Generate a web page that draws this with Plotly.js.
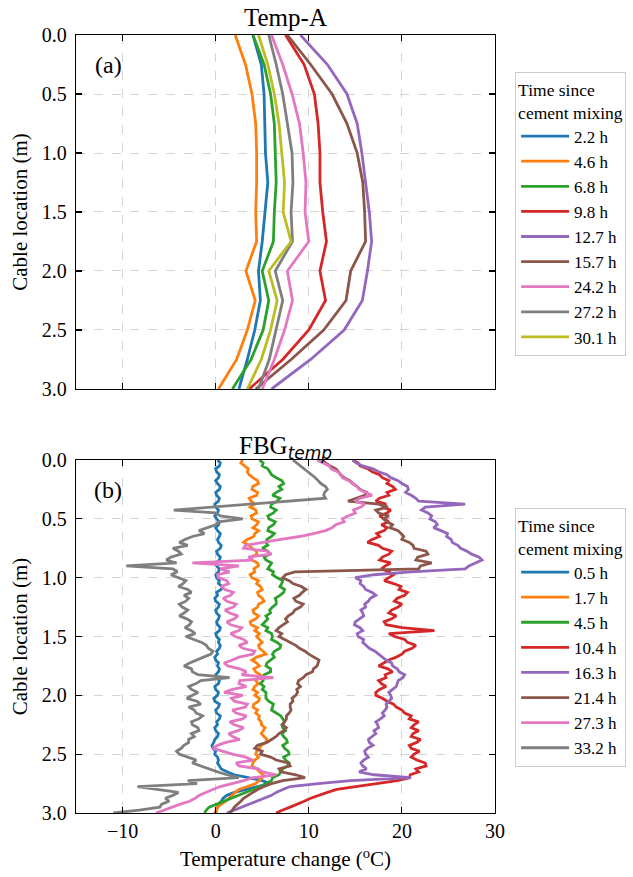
<!DOCTYPE html>
<html><head><meta charset="utf-8">
<script src="https://cdn.plot.ly/plotly-3.0.1.min.js"></script>
<style>html,body{margin:0;padding:0;background:#fff}</style>
</head><body><div id="chart" style="width:633px;height:877px"></div>
<script>
// ---------- (a) Temp-A ----------
const depthA = [0, 0.25, 0.5, 0.75, 1.0, 1.25, 1.5, 1.75, 2.0, 2.25, 2.5, 2.75, 3.0];
const labelsA = ['2.2 h','4.6 h','6.8 h','9.8 h','12.7 h','15.7 h','24.2 h','27.2 h','30.1 h'];
const tA_22  = [4.0, 4.9, 5.2, 5.3, 5.35, 5.6, 5.3, 5.0, 4.6, 4.8, 4.2, 3.4, 2.5];
const tA_46  = [2.1, 3.2, 3.9, 4.3, 4.4, 4.4, 4.3, 4.4, 3.25, 4.25, 3.4, 2.25, 0.3];
const tA_68  = [4.0, 5.2, 5.9, 6.3, 6.4, 6.5, 6.3, 6.2, 5.0, 5.7, 5.1, 3.8, 1.8];
const tA_98  = [7.5, 9.5, 10.6, 11.0, 11.2, 11.2, 11.5, 11.9, 11.2, 11.8, 10.0, 7.2, 3.6];
const tA_127 = [9.1, 12.0, 14.1, 15.2, 15.7, 16.1, 16.5, 16.75, 16.3, 15.75, 13.8, 10.2, 6.0];
const tA_157 = [7.7, 10.2, 12.5, 14.1, 15.2, 15.8, 16.0, 16.1, 14.5, 14.0, 11.6, 8.1, 4.3];
const tA_242 = [6.0, 7.2, 8.2, 9.0, 9.4, 9.7, 9.6, 10.0, 7.7, 8.25, 7.4, 6.3, 5.0];
const tA_272 = [5.7, 6.5, 7.2, 7.7, 8.2, 8.3, 8.1, 8.25, 6.4, 7.2, 6.5, 5.75, 4.6];
const tA_301 = [4.6, 5.6, 6.3, 6.8, 7.1, 7.4, 7.25, 8.1, 5.7, 6.6, 5.9, 4.9, 3.4];

// ---------- (b) FBG_temp ----------
const depthB = [0,0.025,0.05,0.075,0.1,0.125,0.15,0.175,0.2,0.225,0.25,0.275,0.3,0.325,0.35,0.375,0.4,0.425,0.45,0.475,
 0.5,0.525,0.55,0.575,0.6,0.625,0.65,0.675,0.7,0.725,0.75,0.775,0.8,0.825,0.85,0.875,0.9,0.925,0.95,0.975,
 1.0,1.025,1.05,1.075,1.1,1.125,1.15,1.175,1.2,1.225,1.25,1.275,1.3,1.325,1.35,1.375,1.4,1.425,1.45,1.475,
 1.5,1.525,1.55,1.575,1.6,1.625,1.65,1.675,1.7,1.725,1.75,1.775,1.8,1.825,1.85,1.875,1.9,1.925,1.95,1.975,
 2.0,2.025,2.05,2.075,2.1,2.125,2.15,2.175,2.2,2.225,2.25,2.275,2.3,2.325,2.35,2.375,2.4,2.425,2.45,2.475,
 2.5,2.525,2.55,2.575,2.6,2.625,2.65,2.675,2.7,2.725,2.75,2.775,2.8,2.825,2.85,2.875,2.9,2.925,2.95,2.975,3.0];
const labelsB = ['0.5 h','1.7 h','4.5 h','10.4 h','16.3 h','21.4 h','27.3 h','33.2 h'];
const tB_05 = [0.2,0.5,0.4,0.0,0.1,0.4,0.3,0.0,0.2,0.5,0.4,0.0,0.1,0.4,0.3,-0.1,0.0,0.3,0.2,-0.1,
 0.1,0.4,0.3,0.0,0.2,0.5,0.4,0.2,0.3,0.6,0.5,0.1,0.2,0.5,0.4,0.0,0.1,0.4,0.3,0.0,
 0.1,0.4,0.3,0.7,0.6,0.1,0.2,-0.1,0.0,0.4,0.3,0.0,0.1,0.4,0.3,0.1,0.2,0.5,0.4,0.0,
 0.1,0.4,0.3,0.5,0.4,0.1,0.2,-0.1,0.0,0.3,0.2,0.4,0.3,0.0,0.1,0.4,0.3,-0.1,0.0,0.3,
 0.2,-0.2,-0.1,0.4,0.3,0.0,0.1,0.5,0.4,0.1,0.2,-0.1,0.0,0.3,0.2,-0.1,-0.2,-0.4,-0.3,0.0,
 -0.1,0.2,0.3,0.2,0.4,0.6,1.2,2.0,3.5,5.0,5.8,4.5,3.0,2.0,1.2,0.8,0.6,0.3,0.2,0.1,0.0];
const tB_17 = [2.9,2.7,3.1,3.5,3.4,3.6,4.0,4.5,4.6,4.0,3.9,4.5,4.4,3.6,3.8,4.2,3.7,4.3,4.4,3.8,
 3.9,4.6,4.4,4.0,4.6,4.2,4.1,3.4,3.0,3.6,3.9,4.4,4.4,3.8,3.9,4.5,4.6,4.1,4.2,3.7,
 3.9,4.6,4.4,4.8,5.0,4.5,4.6,5.0,5.2,4.6,4.5,4.0,4.1,4.6,4.3,3.7,3.8,4.5,4.2,4.7,
 4.4,4.7,5.0,4.6,4.7,5.1,5.4,4.4,3.9,4.4,4.7,4.1,4.3,4.8,4.5,4.3,4.6,4.2,4.0,4.5,
 4.2,4.7,4.6,4.1,4.0,4.5,4.3,4.7,4.6,4.9,4.9,5.3,5.1,4.9,5.2,5.5,5.4,4.9,4.7,4.4,
 4.3,4.6,4.2,4.0,3.9,4.4,4.7,5.1,5.0,4.6,4.3,3.4,2.5,2.1,1.8,1.5,1.1,0.6,0.2,0.1,-0.15];
const tB_45 = [4.7,5.1,5.0,5.6,5.8,6.0,6.5,7.1,7.3,6.8,7.1,6.5,6.1,6.9,6.6,6.0,5.9,6.5,6.2,5.6,
 5.7,6.4,6.2,5.7,5.6,6.3,6.0,5.5,5.4,5.6,5.0,5.6,5.8,5.2,5.4,6.0,5.8,5.6,6.2,6.1,
 6.6,7.2,7.1,6.9,7.4,7.3,6.9,6.4,6.5,6.5,6.1,5.8,5.9,5.4,5.6,5.3,5.0,5.6,5.4,6.0,
 6.1,6.0,6.6,7.0,6.9,6.3,6.1,6.3,5.9,5.5,5.4,5.9,5.9,5.2,5.0,5.1,4.8,5.2,5.0,5.4,
 5.4,5.4,5.7,6.2,6.1,6.0,6.5,7.0,7.2,7.4,7.1,7.2,7.5,7.1,7.3,7.6,7.7,7.2,7.4,7.8,
 7.9,7.3,7.5,7.9,7.7,7.2,7.0,6.8,6.1,6.0,5.4,4.9,4.0,3.2,2.5,1.6,0.8,0.0,-0.7,-1.0,-1.2];
const tB_104 = [14.7,15.3,15.5,16.4,16.8,17.6,17.9,18.6,18.4,19.0,19.3,18.4,18.6,17.6,17.2,18.3,17.9,18.8,18.4,17.6,
 18.1,18.6,17.8,18.4,18.1,17.3,17.6,16.8,16.3,17.5,17.9,18.9,18.6,17.9,17.6,18.8,18.2,17.8,18.6,19.1,
 18.6,18.1,19.1,19.9,19.7,20.6,20.3,19.5,19.2,20.0,19.6,18.9,18.6,19.4,18.9,18.1,18.3,20.0,23.5,18.6,
 19.2,20.3,20.6,21.5,21.1,20.3,20.0,19.4,18.6,18.0,17.5,18.5,19.0,18.2,18.3,17.5,17.8,18.3,17.6,17.2,
 17.2,17.9,18.4,19.1,19.4,20.0,20.3,21.0,20.8,21.8,21.3,21.0,21.8,21.2,21.0,22.0,21.6,20.8,21.0,21.9,
 21.3,21.0,21.6,22.5,22.6,21.5,21.8,20.9,20.8,19.5,17.2,15.0,13.0,12.0,11.0,10.2,9.5,8.8,8.0,7.2,6.5];
const tB_163 = [14.7,15.1,15.8,16.9,17.5,18.4,18.8,19.6,20.0,20.6,20.7,20.4,21.0,21.5,21.8,26.8,22.5,22.1,22.8,23.2,
 23.0,23.6,23.8,23.4,24.2,24.9,24.8,25.3,25.4,26.0,26.3,27.0,27.5,28.3,28.6,27.8,27.2,26.8,21.0,17.0,
 15.0,15.6,15.5,15.9,16.1,16.8,17.2,16.6,16.4,16.0,16.1,15.6,15.8,15.9,15.4,15.0,14.9,15.5,15.8,15.2,
 15.3,15.9,15.8,16.2,16.5,17.1,17.5,17.8,18.3,18.9,19.0,19.5,19.7,20.3,20.1,19.6,19.5,19.4,19.0,18.6,
 18.8,18.9,18.6,18.3,18.4,18.2,17.9,18.1,17.7,17.2,17.4,17.5,17.0,17.2,16.8,16.4,16.5,16.9,16.3,16.0,
 16.1,16.4,15.9,15.6,15.8,16.2,15.4,17.0,21.0,14.5,11.0,8.0,7.2,6.5,6.0,5.2,4.5,3.7,3.0,2.0,1.2];
const tB_214 = [11.5,11.8,12.3,12.9,13.2,13.4,13.8,14.4,14.7,15.2,15.5,16.2,16.0,15.0,14.2,17.5,18.5,17.2,17.5,18.6,
 18.0,18.4,19.0,18.7,19.6,19.9,20.2,20.0,20.8,21.2,21.3,22.6,22.8,21.7,21.5,23.2,22.0,21.8,8.5,7.5,
 7.2,7.9,8.3,9.2,9.7,9.3,9.0,8.4,8.6,9.4,9.1,8.5,8.3,7.8,7.5,7.7,7.2,6.8,6.5,7.1,
 6.8,7.4,7.9,8.6,9.0,9.6,10.0,10.6,11.1,11.0,10.9,10.5,10.4,9.7,9.4,8.9,8.8,9.1,8.7,8.8,
 8.6,8.2,8.3,8.0,8.0,8.1,7.9,7.6,7.6,7.4,7.2,7.6,7.3,6.8,6.5,6.0,5.5,4.5,4.2,5.0,
 4.8,5.9,6.5,7.8,8.0,6.8,7.0,8.6,9.6,7.2,6.0,5.2,4.5,4.0,3.5,3.0,2.7,2.3,2.0,1.8,1.5];
const tB_273 = [10.9,11.6,12.2,12.4,13.1,13.5,13.6,14.3,14.7,15.2,15.4,16.2,16.8,15.5,15.0,16.0,15.6,14.8,15.0,14.2,
 13.6,13.8,12.9,12.5,11.8,10.5,9.0,7.0,5.0,3.2,3.0,5.5,6.0,3.5,4.0,-2.5,2.5,0.5,1.5,0.2,
 0.3,1.2,1.4,0.6,1.0,1.9,1.6,0.8,1.2,2.2,1.9,1.0,1.5,2.4,2.0,1.2,1.6,2.8,2.5,1.6,
 2.1,3.0,3.4,2.5,2.9,4.2,4.0,2.5,1.8,0.9,1.3,2.6,3.3,2.8,6.2,2.6,2.5,3.3,1.8,0.9,
 2.9,1.7,2.0,3.4,3.2,1.8,2.2,3.3,2.9,1.5,2.0,3.0,2.4,1.4,1.8,2.6,1.1,0.2,-0.3,0.8,
 1.8,3.2,4.0,2.2,2.5,4.6,5.0,6.5,4.0,3.0,1.8,0.5,-0.3,-1.0,-1.8,-2.2,-2.8,-3.8,-4.6,-5.5,-6.4];
const tB_332 = [8.3,8.7,9.1,9.6,10.0,10.4,10.7,11.0,11.3,11.8,12.0,11.7,11.6,11.8,7.7,3.6,-0.4,-4.5,0.0,0.5,
 2.9,0.3,0.0,-1.0,-1.8,-1.2,-2.5,-3.3,-3.9,-3.0,-4.6,-4.0,-3.7,-4.8,-5.3,-4.2,-9.6,-4.6,-4.1,-4.8,
 -3.9,-3.2,-3.5,-4.0,-3.0,-2.6,-3.4,-2.9,-3.2,-3.9,-3.6,-3.0,-3.4,-3.9,-3.1,-2.6,-2.8,-3.3,-2.6,-2.2,
 -3.2,-2.4,-1.5,-1.0,-0.8,-0.3,-0.5,-1.3,-2.1,-2.8,-3.4,-2.6,-2.5,-1.9,1.5,-1.6,-2.1,-2.9,-2.6,-1.9,
 -2.5,-3.1,-2.0,-1.6,-2.9,-2.3,-2.1,-1.4,-1.8,-2.6,-2.5,-1.9,-1.8,-2.6,-2.3,-2.9,-2.9,-3.4,-3.7,-4.2,
 -3.9,-3.0,-2.1,-2.5,-1.6,-0.9,0.2,1.2,2.5,-3.0,-2.0,-8.4,-6.0,-4.0,-4.6,-5.4,-5.0,-5.8,-6.0,-8.2,-11.0];

const colors = ['#1f77b4','#ff7f0e','#2ca02c','#d62728','#9467bd','#8c564b','#e377c2','#7f7f7f','#bcbd22'];
const seriesA = [tA_22, tA_46, tA_68, tA_98, tA_127, tA_157, tA_242, tA_272, tA_301];
const seriesB = [tB_05, tB_17, tB_45, tB_104, tB_163, tB_214, tB_273, tB_332];

const traces = [];
seriesA.forEach((s, i) => traces.push({
  x: s, y: depthA, xaxis: 'x', yaxis: 'y', type: 'scatter', mode: 'lines',
  name: labelsA[i], legend: 'legend', line: {color: colors[i], width: 2.8}
}));
seriesB.forEach((s, i) => traces.push({
  x: s, y: depthB, xaxis: 'x2', yaxis: 'y2', type: 'scatter', mode: 'lines',
  name: labelsB[i], legend: 'legend2', line: {color: colors[i], width: 2.8}
}));

const FONT = "'Liberation Serif', 'Times New Roman', serif";
const axBase = {
  showline: true, linecolor: '#000', linewidth: 1.3, mirror: 'ticks',
  ticks: 'inside', ticklen: 6, tickwidth: 1.2, tickcolor: '#000',
  showgrid: true, gridcolor: '#d4d4d4', griddash: 'dash', gridwidth: 1,
  zeroline: false, tickfont: {family: FONT, size: 20, color: '#000'}
};
const xBase = Object.assign({}, axBase, {range: [-15, 30], tick0: 0, dtick: 10});
const yBase = Object.assign({}, axBase, {range: [3, 0], tick0: 0, dtick: 0.5, tickformat: '.1f',
  ticklabelstandoff: 4,
  title: {text: 'Cable location (m)', font: {family: FONT, size: 21, color: '#000'}, standoff: 8}});

const legBase = {
  xanchor: 'left', yanchor: 'top', x: 1.048,
  bgcolor: '#fff', bordercolor: '#cccccc', borderwidth: 1,
  font: {family: FONT, size: 17, color: '#000'},
  title: {text: 'Time since<br>cement mixing', font: {family: FONT, size: 17.5, color: '#000'}},
  itemwidth: 48
};

const layout = {
  width: 633, height: 877,
  margin: {l: 76, r: 138, t: 35, b: 64, autoexpand: false},
  paper_bgcolor: '#fff', plot_bgcolor: '#fff',
  font: {family: FONT, size: 18, color: '#000'},
  showlegend: true,
  xaxis: Object.assign({}, xBase, {anchor: 'y', domain: [0, 1], showticklabels: false}),
  yaxis: Object.assign({}, yBase, {anchor: 'x', domain: [0.545, 1]}),
  xaxis2: Object.assign({}, xBase, {anchor: 'y2', domain: [0, 1],
    title: {text: 'Temperature change (<sup>o</sup>C)', font: {family: FONT, size: 21, color: '#000'}, standoff: 10}}),
  yaxis2: Object.assign({}, yBase, {anchor: 'x2', domain: [0, 0.4537]}),
  legend: Object.assign({}, legBase, {y: 0.9524}),
  legend2: Object.assign({}, legBase, {y: 0.392}),
  annotations: [
    {text: 'Temp-A', xref: 'paper', yref: 'paper', x: 0.5, y: 1.023, xanchor: 'center', yanchor: 'middle',
     showarrow: false, font: {family: FONT, size: 25, color: '#000'}},
    {text: 'FBG<sub><span style="font-family:DejaVu Sans;font-style:italic;font-size:17px">temp</span></sub>',
     xref: 'paper', yref: 'paper', x: 0.5, y: 0.4704, xanchor: 'center', yanchor: 'middle',
     showarrow: false, font: {family: FONT, size: 25, color: '#000'}},
    {text: '(a)', xref: 'paper', yref: 'paper', x: 0.0764, y: 0.9614, xanchor: 'center', yanchor: 'middle',
     showarrow: false, font: {family: FONT, size: 24, color: '#000'}},
    {text: '(b)', xref: 'paper', yref: 'paper', x: 0.0764, y: 0.4152, xanchor: 'center', yanchor: 'middle',
     showarrow: false, font: {family: FONT, size: 24, color: '#000'}}
  ]
};

Plotly.newPlot('chart', traces, layout, {staticPlot: true, displayModeBar: false});
</script></body></html>
